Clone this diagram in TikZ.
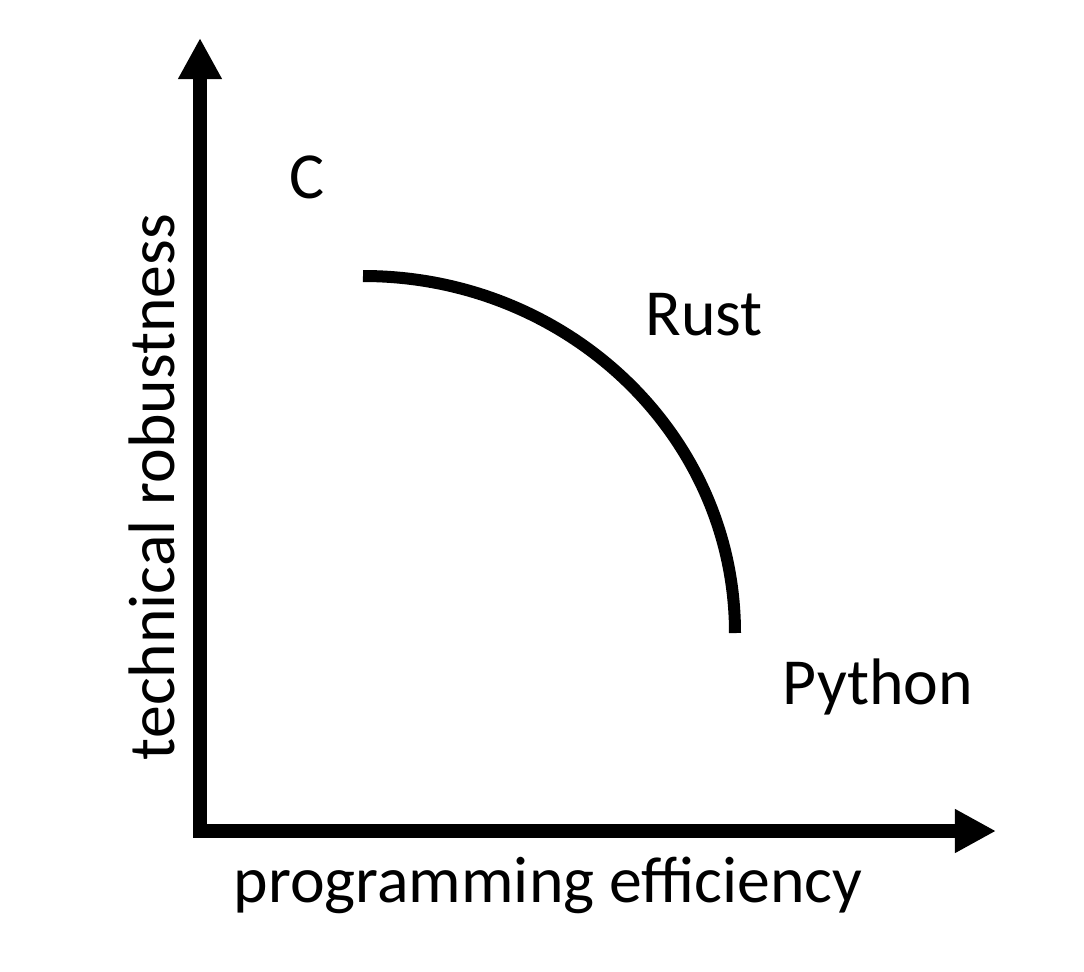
\documentclass[tikz,border=0pt]{standalone}
\usepackage{fontspec}
\setmainfont{Carlito}
\usetikzlibrary{arrows.meta}

\begin{document}
\begin{tikzpicture}[x=0.01cm, y=-0.01cm]
                \useasboundingbox (0, 0) rectangle (1084, 972);
                \coordinate (O) at (200, 831);
                \coordinate (Ytip) at (200, 38);
                \coordinate (Xtip) at (996, 831);

                \begin{scope}[every node/.style={font=\fontsize{18.7}{22}\selectfont, inner sep=0pt}]
                    \node (C) at (307, 177) {C};
                    \node (Rust) at (704, 315) {Rust};
                    \node (Python) at (878, 687) {Python};
                    \node (xlabel) at (548, 885) {programming efficiency};
                    \node[rotate=90] (ylabel) at (152, 487) {technical robustness};
                \end{scope}

                \draw[black, line width=0.14cm, {Triangle[width=0.41cm, length=0.41cm]}-{Triangle[width=0.41cm, length=0.41cm]}] (Ytip) -- (O) -- (Xtip);

                \draw[black, line width=0.12cm] (363, 276) arc[start angle=-90, end angle=0, x radius=372, y radius=357];
            \end{tikzpicture}
\end{document}
